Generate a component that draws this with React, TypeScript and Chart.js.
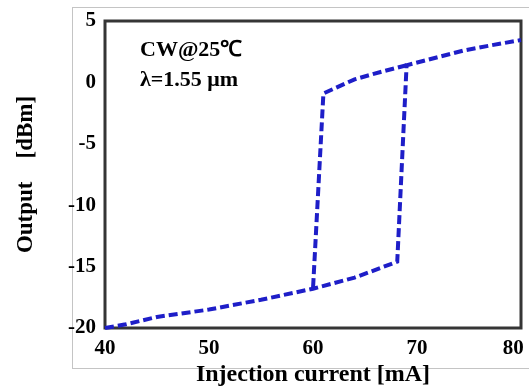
import { useEffect, useRef } from 'react';
import { Chart, registerables } from 'chart.js';

Chart.register(...registerables);

// Forward sweep: lower branch, jump up at ~68 mA, upper branch to 80 mA
const sweepUpCurrent = [40, 42, 45, 50, 55, 60, 64, 68.1, 69, 72, 74.5, 77, 80];
const sweepUpOutput = [-20, -19.7, -19.1, -18.5, -17.7, -16.8, -15.9, -14.6, 1.4, 2.05, 2.6, 3.0, 3.45];
// Backward sweep: upper branch down to ~61 mA, then drop
const sweepDownCurrent = [69, 66.5, 64, 61, 60];
const sweepDownOutput = [1.4, 0.85, 0.25, -0.9, -16.8];

const xTicks = [40, 50, 60, 70, 80];
// the last label sits slightly inside the frame in the original
const xTickLabels = ['40', '50', '60', '70', '80   '];
const yTicks = [5, 0, -5, -10, -15, -20];
const xTitle = 'Injection current [mA]';
const yTitle = 'Output    [dBm]';
const noteLines = ['CW@25\u2103', '\u03bb=1.55 \u03bcm'];

const SERIF = "'Liberation Serif', 'Times New Roman', serif";
const LINE_COLOR = 'rgb(30,30,200)';

const framePlugin = {
  id: 'frame',
  beforeDraw(chart: any) {
    const { ctx, width, height } = chart;
    ctx.save();
    ctx.fillStyle = '#ffffff';
    ctx.fillRect(0, 0, width, height);
    ctx.strokeStyle = '#c4c4c4';
    ctx.lineWidth = 1;
    ctx.strokeRect(72.5, 7.5, 600, 361);
    ctx.restore();
  },
  beforeDatasetsDraw(chart: any) {
    const { ctx, chartArea } = chart;
    ctx.save();
    ctx.strokeStyle = '#353535';
    ctx.lineWidth = 3;
    ctx.strokeRect(chartArea.left, chartArea.top, chartArea.right - chartArea.left, chartArea.bottom - chartArea.top);
    ctx.restore();
  },
  afterDatasetsDraw(chart: any) {
    const { ctx, chartArea } = chart;
    ctx.save();
    ctx.fillStyle = '#000000';
    ctx.font = `bold 22px ${SERIF}`;
    ctx.textBaseline = 'alphabetic';
    ctx.textAlign = 'left';
    ctx.fillText(noteLines[0], chartArea.left + 35, chartArea.top + 35);
    ctx.fillText(noteLines[1], chartArea.left + 35, chartArea.top + 65);
    ctx.restore();
  },
};

export default function App() {
  const ref = useRef<HTMLCanvasElement>(null);

  useEffect(() => {
    if (!ref.current) return;
    const chart = new Chart(ref.current, {
      type: 'scatter',
      data: {
        datasets: [
          {
            data: sweepUpCurrent.map((x, i) => ({ x, y: sweepUpOutput[i] })),
            showLine: true,
            borderColor: LINE_COLOR,
            borderWidth: 4,
            borderDash: [9, 4],
            pointRadius: 0,
            tension: 0,
            clip: 4,
          },
          {
            data: sweepDownCurrent.map((x, i) => ({ x, y: sweepDownOutput[i] })),
            showLine: true,
            borderColor: LINE_COLOR,
            borderWidth: 4,
            borderDash: [9, 4],
            pointRadius: 0,
            tension: 0,
            clip: 4,
          },
        ],
      },
      options: {
        animation: false,
        responsive: false,
        maintainAspectRatio: false,
        layout: { padding: { top: 21, right: 8, left: 0, bottom: 0 } },
        plugins: { legend: { display: false }, tooltip: { enabled: false } },
        scales: {
          x: {
            type: 'linear',
            min: 40,
            max: 80,
            afterBuildTicks: (s: any) => {
              s.ticks = xTicks.map((v) => ({ value: v }));
            },
            afterFit: (s: any) => {
              s.height = 62;
              s.paddingLeft = 0;
              s.paddingRight = 0;
            },
            grid: { display: false, drawTicks: false },
            border: { display: false },
            ticks: {
              padding: 8,
              color: '#000',
              font: { family: SERIF, size: 21, weight: 'bold' },
              maxRotation: 0,
              callback: (v: any) => {
                const i = xTicks.indexOf(Number(v));
                return i >= 0 ? xTickLabels[i] : '';
              },
            },
            title: {
              display: true,
              text: xTitle,
              color: '#000',
              font: { family: SERIF, size: 24, weight: 'bold' },
              padding: { top: 0, bottom: 1 },
            },
          },
          y: {
            type: 'linear',
            min: -20,
            max: 5,
            afterBuildTicks: (s: any) => {
              s.ticks = yTicks.map((v) => ({ value: v }));
            },
            afterFit: (s: any) => {
              s.width = 105;
              s.paddingTop = 0;
              s.paddingBottom = 0;
            },
            grid: { display: false, drawTicks: false },
            border: { display: false },
            ticks: {
              padding: 9,
              color: '#000',
              font: { family: SERIF, size: 21, weight: 'bold' },
            },
            title: {
              display: true,
              text: yTitle,
              color: '#000',
              font: { family: SERIF, size: 23, weight: 'bold' },
              padding: { top: 12, bottom: 0 },
            },
          },
        },
      },
      plugins: [framePlugin],
    } as any);
    return () => chart.destroy();
  }, []);

  return (
    <div style={{ position: 'absolute', left: 0, top: 0, width: 529, height: 390 }}>
      <canvas ref={ref} width={529} height={390} style={{ width: 529, height: 390, display: 'block' }} />
    </div>
  );
}
